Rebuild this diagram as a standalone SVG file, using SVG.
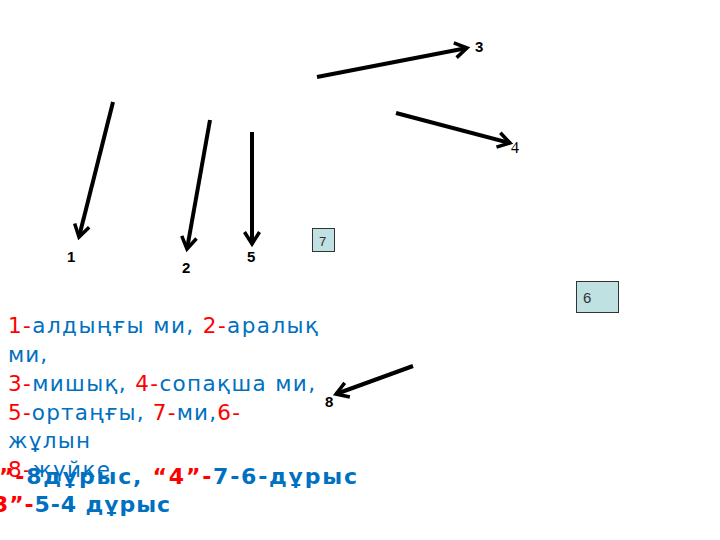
<svg xmlns="http://www.w3.org/2000/svg" width="720" height="540" viewBox="0 0 720 540">
<defs>
<style>
.arr{stroke:#000;stroke-width:4;fill:none;marker-end:url(#v)}
.lbl{font-family:"Liberation Sans",Arial,sans-serif;font-weight:bold;font-size:15px;fill:#000}
.box{fill:#bfe1e2;stroke:#333;stroke-width:1}
.boxt{font-family:"Liberation Sans",Arial,sans-serif;font-size:15px;fill:#333}
.txt{font-family:"DejaVu Sans","Noto Sans",sans-serif;font-size:21.5px;fill:#0070c0}
.bt{font-family:"DejaVu Sans","Noto Sans",sans-serif;font-size:22px;font-weight:bold;fill:#0070c0}
.r{fill:#ff0000}
</style>
<marker id="v" markerUnits="userSpaceOnUse" markerWidth="30" markerHeight="30" refX="0" refY="0" viewBox="-15 -15 30 30" orient="auto" overflow="visible">
<path d="M-12,-7.5 L0,0 L-12,7.5" stroke="#000" stroke-width="3.5" fill="none"/>
</marker>
</defs>
<rect width="720" height="540" fill="#fff"/>
<g id="connectors">
<line class="arr" x1="113" y1="102" x2="79" y2="237"/>
<line class="arr" x1="210" y1="120" x2="187" y2="249"/>
<line class="arr" x1="252" y1="132" x2="252" y2="244"/>
<line class="arr" x1="317" y1="77" x2="467" y2="48"/>
<line class="arr" x1="396" y1="113" x2="510" y2="143"/>
<line class="arr" x1="413" y1="366" x2="336" y2="394"/>
</g>
<g id="n1"><text class="lbl" x="67" y="262">1</text></g>
<g id="n2"><text class="lbl" x="182" y="273">2</text></g>
<g id="n5"><text class="lbl" x="247" y="262">5</text></g>
<g id="n3"><text class="lbl" x="475" y="52">3</text></g>
<g id="n4"><text x="511" y="153" style="font-family:'Liberation Serif','Times New Roman',serif;font-size:16px;fill:#000">4</text></g>
<g id="n8"><text class="lbl" x="325" y="407">8</text></g>
<g id="n7"><rect class="box" x="312.5" y="228.5" width="22" height="23"/><text class="boxt" x="319" y="246" style="font-size:13px">7</text></g>
<g id="n6"><rect class="box" x="576.5" y="281.5" width="42" height="31"/><text class="boxt" x="583" y="303">6</text></g>
<g id="legend">
<text class="txt" x="8" y="333" textLength="310" lengthAdjust="spacing"><tspan class="r">1-</tspan>алдыңғы ми, <tspan class="r">2-</tspan>аралық</text>
<text class="txt" x="8" y="362" textLength="39" lengthAdjust="spacing">ми,</text>
<text class="txt" x="8" y="391" textLength="307" lengthAdjust="spacing"><tspan class="r">3-</tspan>мишық, <tspan class="r">4-</tspan>сопақша ми,</text>
<text class="txt" x="8" y="420" textLength="232" lengthAdjust="spacing"><tspan class="r">5-</tspan>ортаңғы, <tspan class="r">7-</tspan>ми,<tspan class="r">6-</tspan></text>
<text class="txt" x="8" y="448" textLength="82" lengthAdjust="spacing">жұлын</text>
<text class="txt" x="8" y="477" textLength="102" lengthAdjust="spacing"><tspan class="r">8-</tspan>жүйке</text>
<text class="bt" x="-1" y="484" textLength="358" lengthAdjust="spacing"><tspan class="r">”-</tspan>8дұрыс,  <tspan class="r">“4”-</tspan>7-6-дұрыс</text>
<text class="bt" x="-7" y="512" textLength="177" lengthAdjust="spacing"><tspan class="r">3”-</tspan>5-4 дұрыс</text>
</g>
</svg>
